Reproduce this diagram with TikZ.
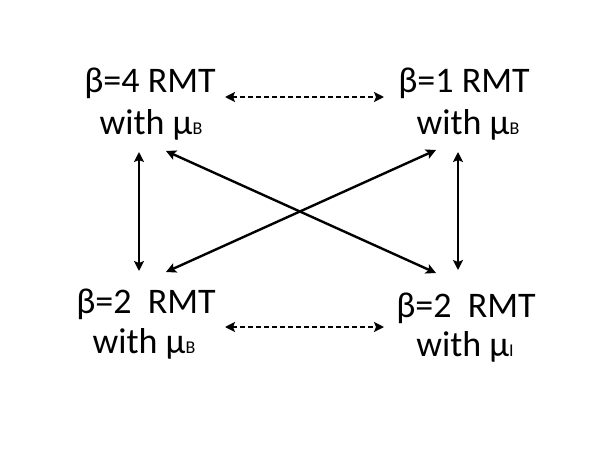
\documentclass[tikz,border=0pt]{standalone}
\usepackage{fontspec}
\setmainfont{Carlito}
\usetikzlibrary{arrows.meta}
\newcommand\mysub[1]{{\fontsize{18}{18}\selectfont #1}}
\begin{document}
\begin{tikzpicture}[x=1pt,y=-1pt,
  lbl/.style={anchor=base,inner sep=0pt,font=\fontsize{36}{40}\selectfont},
  conn/.style={line width=2.4pt,{Stealth[length=10pt,width=10pt,inset=2pt]}-{Stealth[length=10pt,width=10pt,inset=2pt]}},
  dconn/.style={line width=2pt,dash pattern=on 5pt off 3pt,{Stealth[length=10pt,width=10pt,inset=2pt]}-{Stealth[length=10pt,width=10pt,inset=2pt]}}]
\useasboundingbox (0,0) rectangle (599,450);
% labels
\node[lbl] (tla) at (150,92) {β=4 RMT};
\node[lbl] (tlb) at (151,134) {with μ\mysub{B}};
\node[lbl] (tra) at (464,92) {β=1 RMT};
\node[lbl] (trb) at (468,134) {with μ\mysub{B}};
\node[lbl] (bla) at (146,313) {β=2\ \ RMT};
\node[lbl] (blb) at (144,353) {with μ\mysub{B}};
\node[lbl] (bra) at (466,317) {β=2\ \ RMT};
\node[lbl] (brb) at (465,356) {with μ\mysub{I}};
% arrow end points
\coordinate (dtl) at (225,97);
\coordinate (dtr) at (384,97);
\coordinate (dbl) at (225,327);
\coordinate (dbr) at (384,327);
\coordinate (vlt) at (139,152);
\coordinate (vlb) at (139,271);
\coordinate (vrt) at (458,152);
\coordinate (vrb) at (458,270);
\coordinate (xtl) at (166,151);
\coordinate (xbr) at (436,273);
\coordinate (xtr) at (436,150);
\coordinate (xbl) at (166,272);
% connectors
\draw[dconn] (dtl) -- (dtr);
\draw[dconn] (dbl) -- (dbr);
\draw[conn] (vlt) -- (vlb);
\draw[conn] (vrt) -- (vrb);
\draw[conn] (xtl) -- (xbr);
\draw[conn] (xtr) -- (xbl);
\end{tikzpicture}
\end{document}
